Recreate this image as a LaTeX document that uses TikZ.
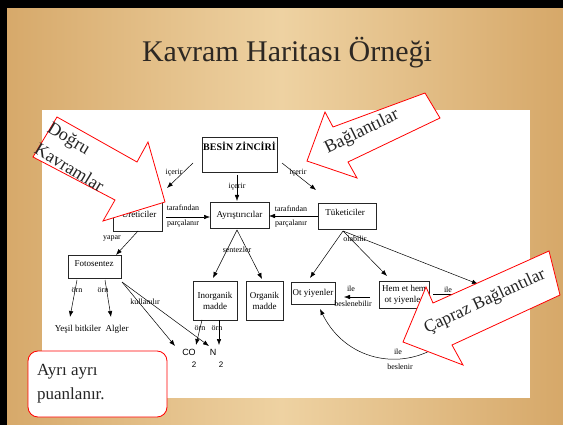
\documentclass[tikz,border=0pt]{standalone}
\usepackage{fontspec}
\setmainfont{Liberation Serif}
\newfontfamily\sansf{Liberation Sans}
\usetikzlibrary{arrows.meta}
\definecolor{woodD}{RGB}{214,168,105}
\definecolor{woodL}{RGB}{238,210,162}
\definecolor{titlec}{RGB}{45,40,35}
\begin{document}
\begin{tikzpicture}[x=1pt,y=-1pt,
  box/.style={draw=black!85, line width=0.7pt, inner sep=1pt, font=\fontsize{9}{11}\selectfont, align=center},
  btxt/.style={inner sep=0pt, font=\fontsize{9}{11}\selectfont, align=center},
  lbl/.style={inner sep=0pt, font=\fontsize{8}{9}\selectfont},
  con/.style={line width=0.5pt, -{Latex[length=6pt,width=4.5pt]}},
  bigarrow/.style={draw=red, line width=0.8pt, fill=white},
  bigtxt/.style={inner sep=0pt, text=black!85, font=\fontsize{18}{25}\selectfont, align=left},
]
\useasboundingbox (0,0) rectangle (563,425);
% background
\shade[left color=woodD, right color=woodD, middle color=woodL] (0,0) rectangle (563,425);
\fill[black] (0,0) rectangle (563,8);
\fill[black] (0,0) rectangle (7,425);
\node[inner sep=0pt, text=titlec, font=\fontsize{30}{36}\selectfont] (title) at (287,53) {Kavram Haritası Örneği};
\fill[white] (42,110) rectangle (530,398);

% boxes
\node[box, minimum width=75pt, minimum height=35pt] (besin) at (239.5,154.5) {};
\node[inner sep=0pt, font=\bfseries\fontsize{10}{11}\selectfont] (besintxt) at (239.5,146) {BESİN ZİNCİRİ};
\node[box, minimum width=49pt, minimum height=29pt] (uret) at (137.5,216.5) {};
\node[btxt] (urettxt) at (139,214) {Üreticiler};
\node[box, minimum width=59pt, minimum height=26pt] (ayris) at (239.5,215) {Ayrıştırıcılar};
\node[box, minimum width=58pt, minimum height=26pt] (tuket) at (347,216) {};
\node[btxt] (tukettxt) at (345,212) {Tüketiciler};
\node[box, minimum width=53pt, minimum height=23pt] (foto) at (94.5,266.5) {};
\node[btxt] (fototxt) at (94,264) {Fotosentez};
\node[box, minimum width=44pt, minimum height=39pt] (inorg) at (215,300.5) {Inorganik\\madde};
\node[box, minimum width=37pt, minimum height=39pt] (org) at (264.5,300.5) {Organik\\madde};
\node[box, minimum width=44pt, minimum height=22pt] (ot) at (313,293) {Ot yiyenler};
\node[box, minimum width=50pt, minimum height=27pt] (hem) at (404,294.5) {Hem et hem\\ot yiyenler};
\node[btxt] (yesil) at (78,329) {Yeşil bitkiler};
\node[btxt] (algler) at (117,329) {Algler};
\node[inner sep=0pt, font=\sansf\fontsize{9}{10}\selectfont] (co) at (189,352) {CO};
\node[inner sep=0pt, font=\sansf\fontsize{8}{9}\selectfont] (co2) at (194,365) {2};
\node[inner sep=0pt, font=\sansf\fontsize{9}{10}\selectfont] (n) at (213,352) {N};
\node[inner sep=0pt, font=\sansf\fontsize{8}{9}\selectfont] (n2) at (221,365) {2};

% connector end points
\coordinate (bL1) at (193,163); \coordinate (bL2) at (167,188);
\coordinate (bM1) at (237,175); \coordinate (bM2) at (237,201);
\coordinate (bR1) at (282,163); \coordinate (bR2) at (316,190);
\coordinate (ua1) at (166,217); \coordinate (ua2) at (210,217);
\coordinate (ta1) at (318,216); \coordinate (ta2) at (269,216);
\coordinate (uf1) at (138,231); \coordinate (uf2) at (116,255);
\coordinate (sent) at (237,230);
\coordinate (si) at (213,278); \coordinate (so) at (262,279);
\coordinate (fy1) at (77,280); \coordinate (fy2) at (70,317);
\coordinate (fa1) at (105,280); \coordinate (fa2) at (111,317);
\coordinate (fk) at (122,282);
\coordinate (fc) at (175,346); \coordinate (fn) at (209,346);
\coordinate (ic1) at (202,320); \coordinate (ic2) at (196,345);
\coordinate (in1) at (219,320); \coordinate (in2) at (219,345);
\coordinate (olab) at (343,231);
\coordinate (oo) at (310,278); \coordinate (oh) at (387,276); \coordinate (oe) at (478,284);
\coordinate (ho1) at (370,297); \coordinate (ho2) at (344,297);
\coordinate (eh1) at (433,294); \coordinate (eh2) at (470,294);
\coordinate (eb1) at (440,345); \coordinate (eb2) at (320,309);

% connectors
\draw[con] (bL1) -- (bL2);
\draw[con] (bM1) -- (bM2);
\draw[con] (bR1) -- (bR2);
\draw[con] (ua1) -- (ua2);
\draw[con] (ta1) -- (ta2);
\draw[con] (uf1) -- (uf2);
\draw[con] (sent) -- (si);
\draw[con] (sent) -- (so);
\draw[con] (fy1) -- (fy2);
\draw[con] (fa1) -- (fa2);
\draw[con] (fk) -- (fc);
\draw[con] (fk) -- (fn);
\draw[con] (ic1) -- (ic2);
\draw[con] (in1) -- (in2);
\draw[con] (olab) -- (oo);
\draw[con] (olab) -- (oh);
\draw[con] (olab) -- (oe);
\draw[con] (ho1) -- (ho2);
\draw[line width=0.5pt] (eh1) -- (eh2);
\draw[con] (eb1) .. controls (400,372) and (345,360) .. (eb2);

% connector labels
\node[lbl] (l1) at (174,173) {içerir};
\node[lbl] (l2) at (237,187) {içerir};
\node[lbl] (l3) at (298,173) {içerir};
\node[lbl] (l4) at (183,208) {tarafından};
\node[lbl] (l5) at (183,224) {parçalanır};
\node[lbl] (l6) at (291,209) {tarafından};
\node[lbl] (l7) at (291,224) {parçalanır};
\node[lbl] (l8) at (237,250) {sentezler};
\node[lbl] (l9) at (112,238) {yapar};
\node[lbl] (l10) at (77,290) {örn};
\node[lbl] (l11) at (103,290) {örn};
\node[lbl] (l12) at (145,302) {kullanılır};
\node[lbl] (l13) at (200,328) {örn};
\node[lbl] (l14) at (217,328) {örn};
\node[lbl] (l15) at (355,239) {olabilir};
\node[lbl] (l16) at (351,289) {ile};
\node[lbl] (l17) at (353,304) {beslenebilir};
\node[lbl] (l18) at (448,290) {ile};
\node[lbl] (l19) at (398,352) {ile};
\node[lbl] (l20) at (400,367) {beslenir};

% callout arrows
\draw[bigarrow] (57,117) -- (137,162) -- (148,142) -- (165,202) -- (103,221) -- (115,200) -- (33,157) -- cycle;
\node[bigtxt, rotate=-31] (dogru) at (76,156.5) {Doğru\\Kavramlar};
\draw[bigarrow] (307,161) -- (325,112) -- (333,127) -- (425,93) -- (440,118) -- (348,162) -- (357,178) -- cycle;
\node[bigtxt, rotate=26] (bagl) at (362,132) {Bağlantılar};
\draw[bigarrow] (403,342) -- (426,287) -- (433,303) -- (549,251) -- (560,295) -- (452,345) -- (463,365) -- cycle;
\node[bigtxt, rotate=25, font=\fontsize{17.5}{20}\selectfont] (capraz) at (485,302) {Çapraz Bağlantılar};

% note
\node[draw=red, line width=0.8pt, fill=white, rounded corners=10pt, minimum width=139pt, minimum height=66pt] (note) at (97.5,384) {};
\node[bigtxt, anchor=west, font=\fontsize{17}{24}\selectfont] (notetxt) at (37,384) {Ayrı ayrı\\puanlanır.};
\end{tikzpicture}
\end{document}
